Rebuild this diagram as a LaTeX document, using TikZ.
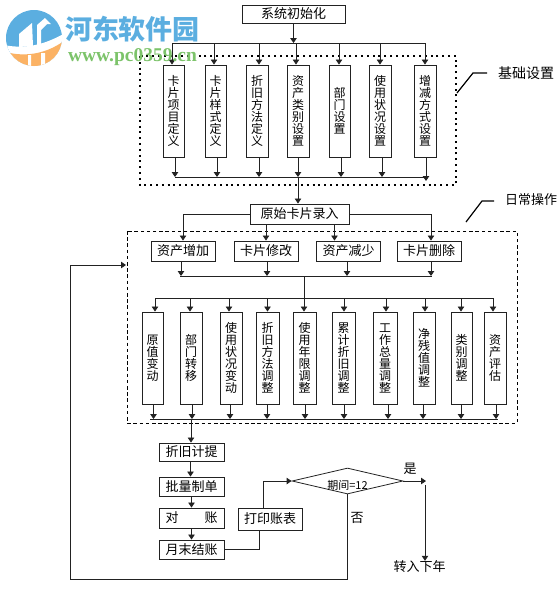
\documentclass[tikz,border=0pt]{standalone}
\usepackage{fontspec}
\usepackage{tikz}
\usetikzlibrary{arrows.meta,shapes.geometric}
\newfontfamily\cjk{Noto Sans CJK SC}
\setmainfont{Liberation Serif}
\definecolor{logoBlue}{HTML}{5BAEE0}
\definecolor{logoOrange}{HTML}{FBB264}
\definecolor{logoGreen}{HTML}{7CC36A}
\definecolor{lineGray}{HTML}{222222}
\tikzset{
    flow/.style={draw=lineGray, line width=0.8pt},
    flowarr/.style={flow, -{Triangle[width=6.5pt,length=5pt]}},
    hbox/.style={draw=lineGray, line width=0.9pt, inner sep=0pt, font=\cjk\fontsize{13}{13}\selectfont},
    vbox/.style={hbox, minimum height=92pt, align=center, font=\cjk\fontsize{12}{12}\selectfont},
    plain/.style={inner sep=0pt, font=\cjk\fontsize{13}{13}\selectfont},
}

\begin{document}
\begin{tikzpicture}[x=1pt, y=-1pt]
    \useasboundingbox (0,0) rectangle (559,598);

    % setup part
    \node[hbox, minimum width=103pt, minimum height=18pt] (init) at (293.5,14) {系统初始化};
    \draw[dash pattern=on 2pt off 3.8pt, line width=1.4pt] (140,56) rectangle (456,185);
    \foreach \i/\x/\w/\t in {1/173.5/21/{卡\\片\\项\\目\\定\\义},2/215.5/21/{卡\\片\\样\\式\\定\\义},3/257/22/{折\\旧\\方\\法\\定\\义},4/298/22/{资\\产\\类\\别\\设\\置},5/339.5/21/{部\\门\\设\\置},6/380/22/{使\\用\\状\\况\\设\\置},7/425/22/{增\\减\\方\\式\\设\\置}}{
        \node[vbox, minimum width=\w pt] (c\i) at (\x,111) {\t};
    }
    \coordinate (topL) at (172,43);
    \coordinate (topR) at (425,43);
    \coordinate (botL) at (175,177);
    \coordinate (botR) at (426,177);
    \draw[flowarr] (init.south) -- (init.south |- topL);
    \draw[flow] (topL) -- (topR);
    \draw[flow] (botL) -- (botR);
    \foreach \i/\dt/\db in {1/-1.5/1.5,2/-1.5/1.5,3/2/2,4/-2/0,5/-.5/1.5,6/0/2}{
        \draw[flowarr] ([xshift=\dt pt]c\i.north |- topL) -- ([xshift=\dt pt]c\i.north);
        \draw[flowarr] ([xshift=\db pt]c\i.south) -- ([xshift=\db pt]c\i.south |- botL);
    }
    \draw[flowarr] (c7.north |- topL) -- (c7.north);
    \draw[flowarr] ([xshift=1pt]c7.south) -- ([xshift=1pt,yshift=-4pt]c7.south |- botL);

    \coordinate (noteA) at (457,93);
    \draw[line width=1.2pt] (noteA) -- (473,73) -- (487,73);
    \node[plain, font=\cjk\fontsize{14}{14}\selectfont] (noteAtext) at (526,73) {基础设置};
    \coordinate (noteB) at (466,222);
    \draw[line width=1.2pt] (noteB) -- (482,201) -- (494,201);
    \node[plain, anchor=west] (noteBtext) at (505,200) {日常操作};

    % daily part
    \node[hbox, minimum width=99pt, minimum height=20pt] (entry) at (299.5,214) {原始卡片录入};
    \draw[flowarr] (c4.south |- botL) -- (entry.north -| c4.south);
    \draw[dash pattern=on 3.5pt off 2.7pt, line width=0.8pt] (127,231) rectangle (517,423);
    \foreach \i/\x/\t in {1/183/资产增加,2/266/卡片修改,3/348.5/资产减少,4/429/卡片删除}{
        \node[hbox, minimum width=64pt, minimum height=20pt] (op\i) at (\x,251) {\t};
    }
    \draw[flowarr] (entry.west) -| (op1.north);
    \draw[flowarr] (entry.south -| op2.north) -- (op2.north);
    \draw[flowarr] ([xshift=-14pt]op3.north |- entry.south) -- ([xshift=-14pt]op3.north);
    \draw[flowarr] (entry.east) -| ([xshift=2pt]op4.north);
    \coordinate (busL) at (180,276);
    \coordinate (busR) at (432,276);
    \coordinate (midT) at (304,276);
    \coordinate (midB) at (304,298);
    \draw[flow] (busL) -- (busR);
    \foreach \i/\dx in {1/-2,2/1,3/-1.5,4/2}{
        \draw[flowarr] ([xshift=\dx pt]op\i.south) -- ([xshift=\dx pt]op\i.south |- busL);
    }
    \draw[flow] (midT) -- (midB);
    \foreach \i/\x/\w/\t in {1/152.5/21/{原\\值\\变\\动},2/191/22/{部\\门\\转\\移},3/231/22/{使\\用\\状\\况\\变\\动},4/267.5/23/{折\\旧\\方\\法\\调\\整},5/304.5/23/{使\\用\\年\\限\\调\\整},6/343.5/23/{累\\计\\折\\旧\\调\\整},7/385/24/{工\\作\\总\\量\\调\\整},8/424/22/{净\\残\\值\\调\\整},9/461.5/21/{类\\别\\调\\整},10/495/22/{资\\产\\评\\估}}{
        \node[vbox, minimum width=\w pt] (d\i) at (\x,358) {\t};
    }
    \coordinate (upL) at (155,298);
    \coordinate (upR) at (493,298);
    \coordinate (lowL) at (150,419);
    \coordinate (lowR) at (498,419);
    \draw[flow] (upL) -- (upR);
    \draw[flow] (lowL) -- (lowR);
    \foreach \i/\dt/\db in {1/2.5/1,2/-1/1,3/-2/-1,4/0/-.5,5/-.5/.5,6/.5/.5,7/1/3,8/1/-1,9/-.5/-.5,10/-2/1}{
        \draw[flowarr] ([xshift=\dt pt]d\i.north |- upL) -- ([xshift=\dt pt]d\i.north);
        \draw[flowarr] ([xshift=\db pt]d\i.south) -- ([xshift=\db pt]d\i.south |- lowL);
    }

    % month end part
    \node[hbox, minimum width=65pt, minimum height=18pt] (calc) at (191.5,452) {折旧计提};
    \node[hbox, minimum width=65pt, minimum height=19pt] (batch) at (191.5,486.5) {批量制单};
    \node[hbox, minimum width=65pt, minimum height=20pt] (check) at (191.5,518) {对\hspace{2em}账};
    \node[hbox, minimum width=65pt, minimum height=19pt] (close) at (191.5,549.5) {月末结账};
    \node[hbox, minimum width=64pt, minimum height=22pt] (print) at (270,519) {打印账表};
    \node[diamond, draw=lineGray, line width=0.8pt, minimum width=111pt, minimum height=26pt, inner sep=0pt] (period) at (347.5,481) {};
    \node[plain, font=\cjk\fontsize{11}{11}\selectfont] (periodtext) at (347.5,485) {期间=12};
    \node[plain] (yes) at (410,469) {是};
    \node[plain] (no) at (357,518) {否};
    \node[plain] (next) at (419.5,567) {转入下年};
    \coordinate (turn) at (426,481);
    \coordinate (down) at (425,485);
    \coordinate (loopA) at (347,579);
    \coordinate (loopB) at (70,579);
    \coordinate (loopC) at (70,265);
    \coordinate (dashin) at (126,265);
    \draw[flowarr] (d2.south |- lowL) -- (calc.north -| d2.south);
    \draw[flowarr] ([xshift=-1pt]calc.south) -- ([xshift=-1pt]batch.north);
    \draw[flowarr] (batch) -- (check);
    \draw[flowarr] (check) -- (close);
    \draw[flow] (close.east) -| ([xshift=-11pt]print.south);
    \draw[flowarr] ([xshift=-7pt]print.north) |- (period.west);
    \draw[flowarr] (period.east) -- (turn);
    \draw[flowarr] (down) -- (next.north -| down);
    \draw[flowarr] (period.south -| loopA) -- (loopA) -- (loopB) -- (loopC) -- (dashin);

    % watermark
    \begin{scope}
        \clip (34,38) circle[radius=28];
        \fill[logoBlue] (0,0) rectangle (70,70);
        \fill[white] (0,44) .. controls (22,50) and (45,46) .. (70,30) -- (70,70) -- (0,70) -- cycle;
        \fill[logoOrange] (0,50) .. controls (20,58) and (48,56) .. (70,36) -- (70,70) -- (0,70) -- cycle;
        \fill[white] (28,55) rectangle (31,70) (41,53) rectangle (45,70);
        \fill[white] (19,47) -- (19,34) -- (32,23) -- (33,46) -- cycle;
        \fill[white] (37,46) -- (37,25) -- (45,18) -- (51,24) -- (47,24) -- (41,30) -- (41,45) -- cycle;
    \end{scope}
    \node[font=\cjk\bfseries\fontsize{27}{27}\selectfont, text=logoBlue, inner sep=0pt] (wmname) at (132.5,29) {河东软件园};
    \node[font=\bfseries\fontsize{19.5}{19.5}\selectfont, text=logoGreen, inner sep=0pt] (wmurl) at (132.5,57.5) {www.pc0359.cn};
\end{tikzpicture}
\end{document}
